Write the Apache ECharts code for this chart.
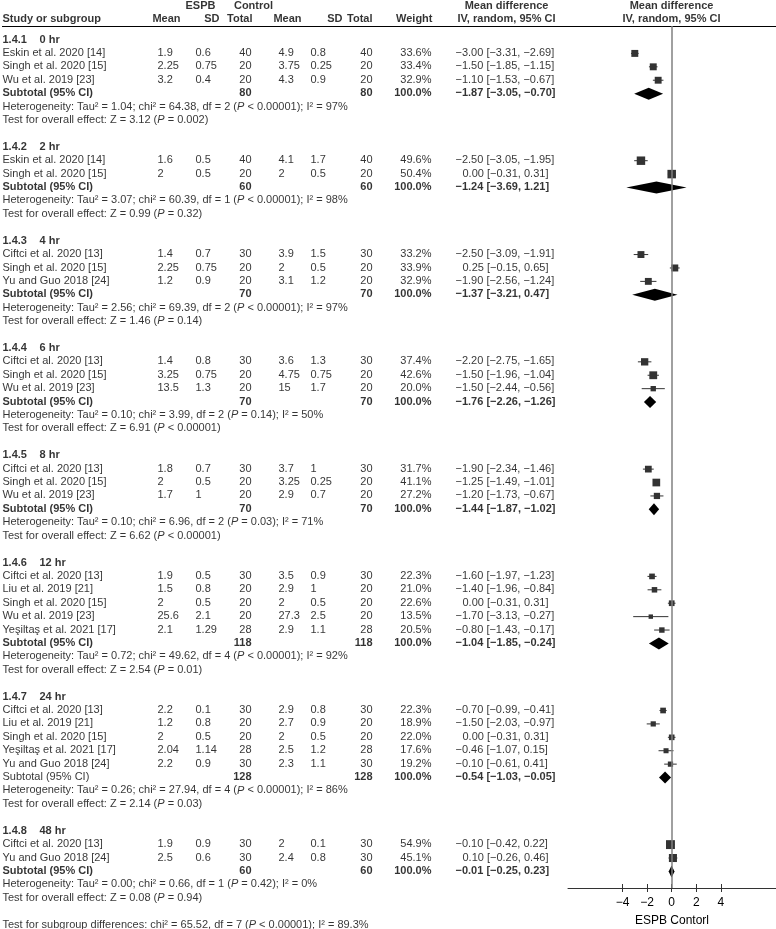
<!DOCTYPE html>
<html>
<head>
<meta charset="utf-8">
<script src="https://cdn.jsdelivr.net/npm/echarts@6/dist/echarts.min.js"></script>
<style>
html, body { margin: 0; padding: 0; background: #fff; }
#main { width: 776px; height: 929px; }
</style>
</head>
<body>
<div id="main"></div>
<script>
// subgroups
const groupCodes = ['1.4.1', '1.4.2', '1.4.3', '1.4.4', '1.4.5', '1.4.6', '1.4.7', '1.4.8'];
const groupTimes = ['0 hr', '2 hr', '4 hr', '6 hr', '8 hr', '12 hr', '24 hr', '48 hr'];
const groupSizes = [3, 2, 3, 3, 3, 5, 5, 2];

// studies, in drawing order
const studyNames = [
  'Eskin et al. 2020 [14]', 'Singh et al. 2020 [15]', 'Wu et al. 2019 [23]',
  'Eskin et al. 2020 [14]', 'Singh et al. 2020 [15]',
  'Ciftci et al. 2020 [13]', 'Singh et al. 2020 [15]', 'Yu and Guo 2018 [24]',
  'Ciftci et al. 2020 [13]', 'Singh et al. 2020 [15]', 'Wu et al. 2019 [23]',
  'Ciftci et al. 2020 [13]', 'Singh et al. 2020 [15]', 'Wu et al. 2019 [23]',
  'Ciftci et al. 2020 [13]', 'Liu et al. 2019 [21]', 'Singh et al. 2020 [15]', 'Wu et al. 2019 [23]', 'Yeşiltaş et al. 2021 [17]',
  'Ciftci et al. 2020 [13]', 'Liu et al. 2019 [21]', 'Singh et al. 2020 [15]', 'Yeşiltaş et al. 2021 [17]', 'Yu and Guo 2018 [24]',
  'Ciftci et al. 2020 [13]', 'Yu and Guo 2018 [24]'
];
const espbMean = [1.9, 2.25, 3.2, 1.6, 2, 1.4, 2.25, 1.2, 1.4, 3.25, 13.5, 1.8, 2, 1.7, 1.9, 1.5, 2, 25.6, 2.1, 2.2, 1.2, 2, 2.04, 2.2, 1.9, 2.5];
const espbSD = [0.6, 0.75, 0.4, 0.5, 0.5, 0.7, 0.75, 0.9, 0.8, 0.75, 1.3, 0.7, 0.5, 1, 0.5, 0.8, 0.5, 2.1, 1.29, 0.1, 0.8, 0.5, 1.14, 0.9, 0.9, 0.6];
const espbN = [40, 20, 20, 40, 20, 30, 20, 20, 30, 20, 20, 30, 20, 20, 30, 20, 20, 20, 28, 30, 20, 20, 28, 30, 30, 30];
const ctrlMean = [4.9, 3.75, 4.3, 4.1, 2, 3.9, 2, 3.1, 3.6, 4.75, 15, 3.7, 3.25, 2.9, 3.5, 2.9, 2, 27.3, 2.9, 2.9, 2.7, 2, 2.5, 2.3, 2, 2.4];
const ctrlSD = [0.8, 0.25, 0.9, 1.7, 0.5, 1.5, 0.5, 1.2, 1.3, 0.75, 1.7, 1, 0.25, 0.7, 0.9, 1, 0.5, 2.5, 1.1, 0.8, 0.9, 0.5, 1.2, 1.1, 0.1, 0.8];
const ctrlN = [40, 20, 20, 40, 20, 30, 20, 20, 30, 20, 20, 30, 20, 20, 30, 20, 20, 20, 28, 30, 20, 20, 28, 30, 30, 30];
const weights = [33.6, 33.4, 32.9, 49.6, 50.4, 33.2, 33.9, 32.9, 37.4, 42.6, 20.0, 31.7, 41.1, 27.2, 22.3, 21.0, 22.6, 13.5, 20.5, 22.3, 18.9, 22.0, 17.6, 19.2, 54.9, 45.1];
const md = [-3.00, -1.50, -1.10, -2.50, 0.00, -2.50, 0.25, -1.90, -2.20, -1.50, -1.50, -1.90, -1.25, -1.20, -1.60, -1.40, 0.00, -1.70, -0.80, -0.70, -1.50, 0.00, -0.46, -0.10, -0.10, 0.10];
const ciLow = [-3.31, -1.85, -1.53, -3.05, -0.31, -3.09, -0.15, -2.56, -2.75, -1.96, -2.44, -2.34, -1.49, -1.73, -1.97, -1.96, -0.31, -3.13, -1.43, -0.99, -2.03, -0.31, -1.07, -0.61, -0.42, -0.26];
const ciHigh = [-2.69, -1.15, -0.67, -1.95, 0.31, -1.91, 0.65, -1.24, -1.65, -1.04, -0.56, -1.46, -1.01, -0.67, -1.23, -0.84, 0.31, -0.27, -0.17, -0.41, -0.97, 0.31, 0.15, 0.41, 0.22, 0.46];

// subtotals per subgroup
const subN = [80, 60, 70, 70, 70, 118, 128, 60];
const subMD = [-1.87, -1.24, -1.37, -1.76, -1.44, -1.04, -0.54, -0.01];
const subLow = [-3.05, -3.69, -3.21, -2.26, -1.87, -1.85, -1.03, -0.25];
const subHigh = [-0.70, 1.21, 0.47, -1.26, -1.02, -0.24, -0.05, 0.23];
const subBold = [true, true, true, true, true, true, false, true];
const tau2 = [1.04, 3.07, 2.56, 0.10, 0.10, 0.72, 0.26, 0.00];
const chi2 = [64.38, 60.39, 69.39, 3.99, 6.96, 49.62, 27.94, 0.66];
const hetDf = [2, 1, 2, 2, 2, 4, 4, 1];
const hetP = ['< 0.00001', '< 0.00001', '< 0.00001', '= 0.14', '= 0.03', '< 0.00001', '< 0.00001', '= 0.42'];
const hetI2 = [97, 98, 97, 50, 71, 92, 86, 0];
const zVal = [3.12, 0.99, 1.46, 6.91, 6.62, 2.54, 2.14, 0.08];
const zP = ['= 0.002', '= 0.32', '= 0.14', '< 0.00001', '< 0.00001', '= 0.01', '= 0.03', '= 0.94'];

// test for subgroup differences
const diffChi2 = 65.52, diffDf = 7, diffP = '< 0.00001', diffI2 = 89.3;

const axisTicks = [-4, -2, 0, 2, 4];

const FONT = '"Liberation Sans", Arial, Helvetica, sans-serif';
const ROW_H = 13.41;
const ROW0_Y = 40;
const Y_MIN = -ROW0_Y / ROW_H;
const AXIS_Y = 888;

const MINUS = '\u2212';
const fmt2 = v => (v < 0 ? MINUS : '') + Math.abs(v).toFixed(2);
const ciText = (m, lo, hi) => fmt2(m) + ' [' + fmt2(lo) + ', ' + fmt2(hi) + ']';

// table cells: x in px, r = row index
const cells = [];
function cell(x, r, text, align, bold) {
  cells.push({ value: [x, r], text: text, label: { align: align, fontWeight: bold ? 'bold' : 'normal' } });
}

// header
const H1 = (6 - ROW0_Y) / ROW_H, H2 = (19 - ROW0_Y) / ROW_H;
cell(201, H1, 'ESPB', 'center', true);
cell(254, H1, 'Control', 'center', true);
cell(507, H1, 'Mean difference', 'center', true);
cell(672, H1, 'Mean difference', 'center', true);
cell(3, H2, 'Study or subgroup', 'left', true);
cell(167, H2, 'Mean', 'center', true);
cell(220, H2, 'SD', 'right', true);
cell(253, H2, 'Total', 'right', true);
cell(288, H2, 'Mean', 'center', true);
cell(343, H2, 'SD', 'right', true);
cell(373, H2, 'Total', 'right', true);
cell(433, H2, 'Weight', 'right', true);
cell(507, H2, 'IV, random, 95% CI', 'center', true);
cell(672, H2, 'IV, random, 95% CI', 'center', true);

const studyMarks = [];
const diamonds = [];
let r = 0, k = 0;
groupCodes.forEach((code, g) => {
  cell(3, r, code, 'left', true);
  cell(40, r, groupTimes[g], 'left', true);
  r++;
  for (let j = 0; j < groupSizes[g]; j++, k++, r++) {
    cell(3, r, studyNames[k], 'left', false);
    cell(158, r, String(espbMean[k]), 'left', false);
    cell(196, r, String(espbSD[k]), 'left', false);
    cell(252, r, String(espbN[k]), 'right', false);
    cell(279, r, String(ctrlMean[k]), 'left', false);
    cell(311, r, String(ctrlSD[k]), 'left', false);
    cell(373, r, String(ctrlN[k]), 'right', false);
    cell(432, r, weights[k].toFixed(1) + '%', 'right', false);
    cell(md[k] < 0 ? 456 : 463, r, ciText(md[k], ciLow[k], ciHigh[k]), 'left', false);
    studyMarks.push([md[k], r, ciLow[k], ciHigh[k], weights[k]]);
  }
  cell(3, r, 'Subtotal (95% CI)', 'left', subBold[g]);
  cell(252, r, String(subN[g]), 'right', true);
  cell(373, r, String(subN[g]), 'right', true);
  cell(432, r, '100.0%', 'right', true);
  cell(subMD[g] < 0 ? 456 : 463, r, ciText(subMD[g], subLow[g], subHigh[g]), 'left', true);
  diamonds.push([subMD[g], r, subLow[g], subHigh[g]]);
  r++;
  cell(3, r, 'Heterogeneity: Tau\u00b2 = ' + tau2[g].toFixed(2) + '; chi\u00b2 = ' + chi2[g].toFixed(2) +
    ', df = ' + hetDf[g] + ' ({i|P} ' + hetP[g] + '); I\u00b2 = ' + hetI2[g] + '%', 'left', false);
  r++;
  cell(3, r, 'Test for overall effect: Z = ' + zVal[g].toFixed(2) + ' ({i|P} ' + zP[g] + ')', 'left', false);
  r += 2;
});
cell(3, r, 'Test for subgroup differences: chi\u00b2 = ' + diffChi2.toFixed(2) + ', df = ' + diffDf +
  ' ({i|P} ' + diffP + '); I\u00b2 = ' + diffI2.toFixed(1) + '%', 'left', false);

const tableMax = Y_MIN + 929 / ROW_H;
const plotMax = Y_MIN + AXIS_Y / ROW_H;
const zeroTop = (26 - ROW0_Y) / ROW_H;
// px per unit ~12.3, zero at x=671.7
const X_MIN = -(671.7 - 568) / 12.3;
const X_MAX = (776 - 671.7) / 12.3;

const chart = echarts.init(document.getElementById('main'), null, { renderer: 'canvas' });
chart.setOption({
  animation: false,
  backgroundColor: '#fff',
  textStyle: { fontFamily: FONT },
  grid: [
    { left: 0, right: 0, top: 0, height: 929, containLabel: false, outerBoundsMode: 'none' },
    { left: 568, right: 0, top: 0, height: AXIS_Y, containLabel: false, outerBoundsMode: 'none' }
  ],
  xAxis: [
    { gridIndex: 0, type: 'value', min: 0, max: 776, show: false },
    {
      gridIndex: 1, type: 'value', min: X_MIN, max: X_MAX, position: 'bottom',
      axisLine: { onZero: false, lineStyle: { color: '#333', width: 1 } },
      axisTick: { customValues: axisTicks, length: 4, lineStyle: { color: '#333', width: 1 } },
      axisLabel: {
        customValues: axisTicks, margin: 9, fontSize: 12, color: '#000', fontFamily: FONT,
        formatter: v => (v < 0 ? MINUS + (-v) : String(v))
      },
      splitLine: { show: false },
      name: 'ESPB Contorl', nameLocation: 'middle', nameGap: 27,
      nameTextStyle: { fontSize: 12, color: '#000', fontFamily: FONT }
    },
    {
      gridIndex: 1, type: 'value', min: X_MIN, max: X_MAX, position: 'bottom',
      axisLine: { show: false, onZero: false },
      axisTick: { customValues: axisTicks, inside: true, length: 4, lineStyle: { color: '#333', width: 1 } },
      axisLabel: { show: false },
      splitLine: { show: false }
    }
  ],
  yAxis: [
    { gridIndex: 0, type: 'value', inverse: true, min: Y_MIN, max: tableMax, show: false },
    { gridIndex: 1, type: 'value', inverse: true, min: Y_MIN, max: plotMax, show: false }
  ],
  graphic: [
    { type: 'line', shape: { x1: 2, y1: 26.5, x2: 776, y2: 26.5 }, style: { stroke: '#000', lineWidth: 1 } }
  ],
  series: [
    {
      type: 'scatter',
      xAxisIndex: 0, yAxisIndex: 0,
      symbol: 'rect', symbolSize: 1,
      itemStyle: { color: 'transparent' },
      progressive: 0,
      silent: true,
      label: {
        show: true,
        position: [0, 0],
        verticalAlign: 'middle',
        fontFamily: FONT, fontSize: 11, color: '#000',
        formatter: p => p.data.text,
        rich: { i: { fontStyle: 'italic', fontFamily: FONT, fontSize: 11, color: '#000' } }
      },
      data: cells
    },
    {
      type: 'custom',
      xAxisIndex: 1, yAxisIndex: 1,
      silent: true,
      encode: { x: [0, 2, 3], y: 1 },
      renderItem: (params, api) => {
        const c = api.coord([api.value(0), api.value(1)]);
        const a = api.coord([api.value(2), api.value(1)]);
        const b = api.coord([api.value(3), api.value(1)]);
        const s = 1.2 * Math.sqrt(api.value(4));
        return {
          type: 'group',
          children: [
            { type: 'line', shape: { x1: a[0], y1: a[1], x2: b[0], y2: b[1] }, style: { stroke: '#333', lineWidth: 1 } },
            { type: 'rect', shape: { x: c[0] - s / 2, y: c[1] - s / 2, width: s, height: s }, style: { fill: '#333' } }
          ]
        };
      },
      data: studyMarks
    },
    {
      type: 'custom',
      xAxisIndex: 1, yAxisIndex: 1,
      silent: true,
      encode: { x: [0, 2, 3], y: 1 },
      renderItem: (params, api) => {
        const c = api.coord([api.value(0), api.value(1)]);
        const a = api.coord([api.value(2), api.value(1)]);
        const b = api.coord([api.value(3), api.value(1)]);
        const h = 6;
        return {
          type: 'polygon',
          shape: { points: [[a[0], c[1]], [c[0], c[1] - h], [b[0], c[1]], [c[0], c[1] + h]] },
          style: { fill: '#000' }
        };
      },
      markLine: {
        silent: true,
        symbol: ['none', 'none'],
        label: { show: false },
        lineStyle: { color: '#808080', width: 1.5, type: 'solid' },
        data: [[{ coord: [0, zeroTop] }, { coord: [0, plotMax] }]]
      },
      data: diamonds
    }
  ]
});
</script>
</body>
</html>
